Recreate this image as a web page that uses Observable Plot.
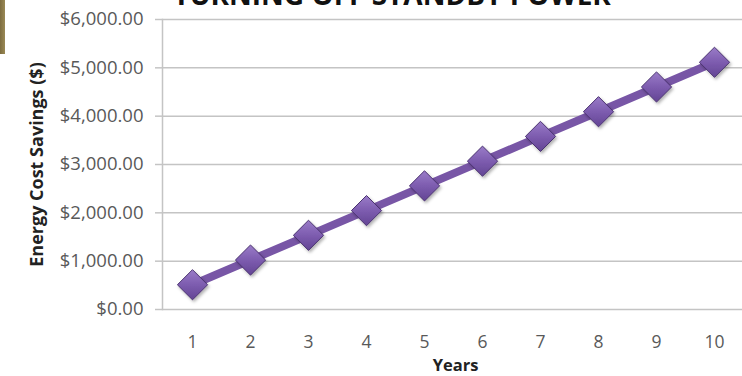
<!DOCTYPE html>
<html>
<head>
<meta charset="utf-8">
<script src="https://cdn.jsdelivr.net/npm/d3@7"></script>
<script src="https://cdn.jsdelivr.net/npm/@observablehq/plot@0.6"></script>
<style>
  html, body { margin: 0; padding: 0; background: #fff; overflow: hidden; }
  #wrap { position: relative; width: 742px; height: 376px; }
  #title {
    position: absolute; left: 0; width: 784px; top: -20px;
    text-align: center; font: bold 28px "Open Sans", sans-serif;
    line-height: 28px; color: #111; white-space: nowrap;
  }
  #edge {
    position: absolute; left: 0; top: 0; width: 5px; height: 54px;
    background: linear-gradient(90deg, #7d6c3f, #9a8955);
  }
  svg { font-family: "Open Sans", sans-serif; }
</style>
</head>
<body>
<div id="wrap">
  <div id="edge"></div>
  <div id="title">TURNING OFF STANDBY POWER</div>
</div>
<script>
// Cumulative energy cost savings from turning off standby power, by year
const years = [1, 2, 3, 4, 5, 6, 7, 8, 9, 10];
const savings = [512, 1023, 1535, 2046, 2558, 3069, 3581, 4092, 4604, 5115];
const yTicks = [0, 1000, 2000, 3000, 4000, 5000, 6000];

const data = years.map((year, i) => ({year, savings: savings[i]}));

const gridColor = "#c4c4c4";
const textColor = "#595959";

const chart = Plot.plot({
  width: 742,
  height: 376,
  marginLeft: 162,
  marginRight: 0,
  marginTop: 19,
  marginBottom: 67,
  style: {background: "transparent", overflow: "visible"},
  x: {type: "point", domain: years, range: [189.5, 716.5], padding: 0},
  y: {domain: [0, 6000]},
  marks: [
    Plot.ruleY(yTicks, {stroke: gridColor, strokeWidth: 1.5}),
    Plot.frame({anchor: "left", stroke: gridColor, strokeWidth: 1.5}),
    Plot.axisY(yTicks, {
      tickSize: 7, tickPadding: 12, stroke: gridColor, strokeWidth: 1.5,
      tickFormat: d3.format("$,.2f"), fontSize: 18.5, fill: textColor,
      label: null
    }),
    Plot.axisX(years, {
      tickSize: 0, tickPadding: 26, fontSize: 17.5, fill: textColor, label: null
    }),
    Plot.text(["Energy Cost Savings ($)"], {
      frameAnchor: "left", textAnchor: "middle", rotate: -90, dx: -125, dy: 0,
      fontSize: 18, fontWeight: "bold", fill: "#222"
    }),
    Plot.text(["Years"], {
      frameAnchor: "bottom", dy: 61, dx: 3, fontSize: 16.5, fontWeight: "bold", fill: "#222"
    }),
    Plot.line(data, {
      x: "year", y: "savings", stroke: "#7856a6", strokeWidth: 8,
      strokeLinejoin: "round"
    }),
    Plot.dot(data, {
      x: "year", y: "savings", symbol: "diamond2", r: 13.6,
      fill: "url(#markerFill)", stroke: "#4a3270", strokeWidth: 1
    })
  ]
});

// gradient and soft shadow for the diamond markers
const svg = d3.select(chart);
const defs = svg.insert("defs", ":first-child");
const grad = defs.append("linearGradient")
  .attr("id", "markerFill").attr("x1", 0).attr("y1", 0).attr("x2", 0).attr("y2", 1);
grad.append("stop").attr("offset", "0%").attr("stop-color", "#9a7cc8");
grad.append("stop").attr("offset", "50%").attr("stop-color", "#7d5caf");
grad.append("stop").attr("offset", "100%").attr("stop-color", "#634594");
const shadow = defs.append("filter").attr("id", "markerShadow")
  .attr("x", "-50%").attr("y", "-50%").attr("width", "200%").attr("height", "200%");
shadow.append("feDropShadow").attr("dx", 1.5).attr("dy", 2).attr("stdDeviation", 1.5)
  .attr("flood-color", "#000").attr("flood-opacity", 0.3);
svg.selectAll("[aria-label=dot] path").attr("filter", "url(#markerShadow)");

const wrap = document.getElementById("wrap");
wrap.appendChild(chart);
chart.style.position = "absolute";
chart.style.left = "0";
chart.style.top = "0";
wrap.appendChild(document.getElementById("title"));
</script>
</body>
</html>
